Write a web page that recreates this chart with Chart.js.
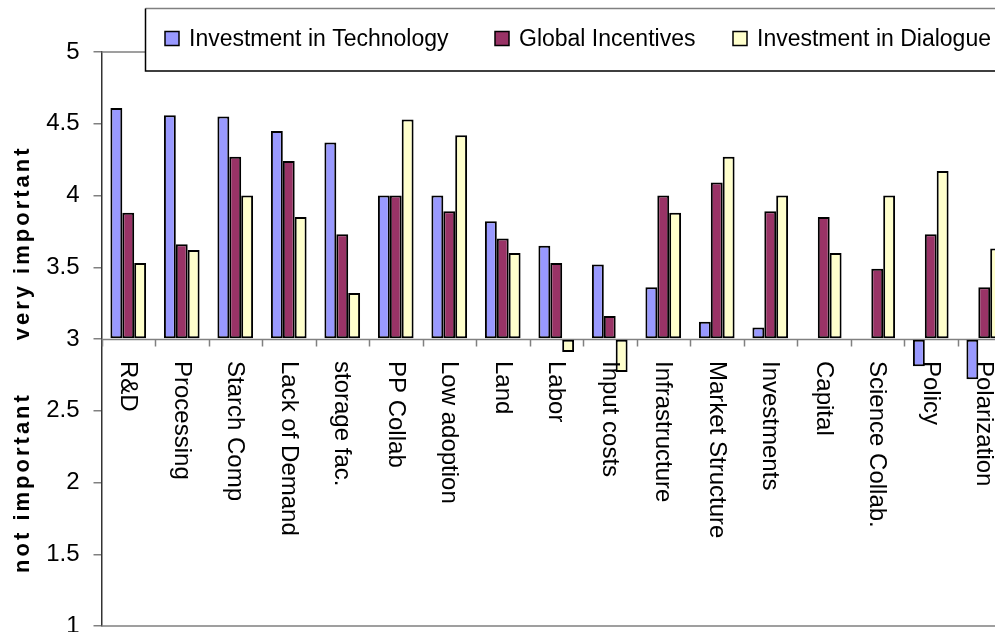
<!DOCTYPE html>
<html>
<head>
<meta charset="utf-8">
<script src="https://cdn.jsdelivr.net/npm/chart.js@4"></script>
<style>
  html, body { margin: 0; padding: 0; background: #fff; overflow: hidden; }
  #wrap { width: 995px; height: 632px; overflow: hidden; }
  canvas { display: block; }
</style>
</head>
<body>
<div id="wrap"><canvas id="chart" width="1020" height="632"></canvas></div>
<script>
// 카테고리 / 시리즈 값 (기준선 3에서 위·아래로 그림)
const CATEGORIES = ['R&D', 'Processing', 'Starch Comp', 'Lack of Demand', 'storage fac.', 'PP Collab',
  'Low adoption', 'Land', 'Labor', 'Input costs', 'Infrastructure', 'Market Structure',
  'Investments', 'Capital', 'Science Collab.', 'Policy', 'Polarization'];
const SERIES_NAMES = ['Investment in Technology', 'Global Incentives', 'Investment in Dialogue'];
const TECH       = [4.61, 4.56, 4.55, 4.45, 4.37, 4.00, 4.00, 3.82, 3.65, 3.52, 3.36, 3.12, 3.08, 3.00, 3.00, 2.81, 2.72];
const INCENTIVES = [3.88, 3.66, 4.27, 4.24, 3.73, 4.00, 3.89, 3.70, 3.53, 3.16, 4.00, 4.09, 3.89, 3.85, 3.49, 3.73, 3.36];
const DIALOGUE   = [3.53, 3.62, 4.00, 3.85, 3.32, 4.53, 4.42, 3.60, 2.91, 2.77, 3.88, 4.27, 4.00, 3.60, 4.00, 4.17, 3.63];
const Y_MIN = 1, Y_MAX = 5, Y_STEP = 0.5, BASE = 3;
// 축 제목과 그 중심이 놓일 y값
const AXIS_TITLES = ['very important', 'not important'];
const AXIS_TITLE_AT = [3.67, 2.0];

const FONT = '"Liberation Sans", Arial, sans-serif';
const COLORS = ['#9999FF', '#993366', '#FFFFCC'];

// 기준선(3)과 눈금, 축 제목, 회전된 카테고리 라벨, 플롯 테두리, 범례 박스
const decorations = {
  id: 'decorations',
  beforeDatasetsDraw(chart) {
    const { ctx, chartArea: a, scales: { y } } = chart;
    const y0 = Math.round(y.getPixelForValue(BASE)) + 0.5;
    ctx.save();
    ctx.strokeStyle = '#808080';
    ctx.lineWidth = 1.5;
    ctx.beginPath();
    ctx.moveTo(a.left, y0); ctx.lineTo(a.right, y0);
    // category boundary ticks below the base line
    for (let i = 0; i <= CATEGORIES.length; i++) {
      const bx = Math.round(a.left + (a.right - a.left) * i / CATEGORIES.length) + 0.5;
      ctx.moveTo(bx, y0); ctx.lineTo(bx, y0 + 7);
    }
    ctx.moveTo(a.left, a.top); ctx.lineTo(a.right, a.top);
    ctx.moveTo(a.left, a.bottom); ctx.lineTo(a.right, a.bottom);
    ctx.stroke();
    ctx.restore();
  },
  afterDatasetsDraw(chart) {
    const { ctx, scales: { x, y } } = chart;
    ctx.save();
    // category labels, read top to bottom
    const y0 = y.getPixelForValue(BASE);
    ctx.fillStyle = '#000';
    ctx.font = '24px ' + FONT;
    ctx.textAlign = 'left';
    ctx.textBaseline = 'alphabetic';
    CATEGORIES.forEach((c, i) => {
      const cx = x.getPixelForValue(i);
      ctx.save();
      ctx.translate(cx - 7, y0 + 22);
      ctx.rotate(Math.PI / 2);
      ctx.fillText(c, 0, 0);
      ctx.restore();
    });

    // left axis titles
    ctx.font = 'bold 22px ' + FONT;
    ctx.textAlign = 'center';
    if ('letterSpacing' in ctx) ctx.letterSpacing = '3px';
    AXIS_TITLES.forEach((t, i) => {
      ctx.save();
      ctx.translate(28.5, y.getPixelForValue(AXIS_TITLE_AT[i]));
      ctx.rotate(-Math.PI / 2);
      ctx.fillText(t, 0, 0);
      ctx.restore();
    });
    ctx.restore();
  },
  afterDraw(chart) {
    const { ctx } = chart;
    ctx.save();
    const bx = 145.5, by = 8.5, bw = 880, bh = 62.5;
    ctx.fillStyle = '#fff';
    ctx.fillRect(bx, by, bw, bh);
    ctx.lineWidth = 1.5;
    ctx.strokeStyle = '#808080';
    ctx.beginPath(); ctx.moveTo(bx, by); ctx.lineTo(bx + bw, by); ctx.stroke();
    ctx.strokeStyle = '#000';
    ctx.beginPath(); ctx.moveTo(bx, by); ctx.lineTo(bx, by + bh); ctx.lineTo(bx + bw, by + bh); ctx.stroke();

    ctx.font = '23px ' + FONT;
    ctx.textBaseline = 'middle';
    ctx.textAlign = 'left';
    const starts = [165, 495, 733];
    SERIES_NAMES.forEach((name, i) => {
      const sx = starts[i], sy = 31.5;
      ctx.fillStyle = COLORS[i];
      ctx.fillRect(sx, sy, 14, 14);
      ctx.strokeStyle = '#000';
      ctx.lineWidth = 1.5;
      ctx.strokeRect(sx, sy, 14, 14);
      ctx.fillStyle = '#000';
      ctx.fillText(name, sx + 24, sy + 8);
    });
    ctx.restore();
  },
};

const datasets = [TECH, INCENTIVES, DIALOGUE].map((vals, i) => ({
  label: SERIES_NAMES[i],
  data: vals,
  base: BASE,
  backgroundColor: COLORS[i],
  borderColor: '#000',
  borderWidth: 2,
  borderSkipped: false,
  categoryPercentage: 3 / 4.5,
  barPercentage: 1,
}));

new Chart(document.getElementById('chart'), {
  type: 'bar',
  data: { labels: CATEGORIES, datasets },
  options: {
    responsive: false,
    animation: false,
    events: [],
    // 캔버스는 창보다 넓고, 마지막 카테고리는 오른쪽 끝에서 잘려 보임
    layout: { autoPadding: false, padding: { top: 52, bottom: 6, left: 0, right: 9 } },
    plugins: { legend: { display: false }, tooltip: { enabled: false } },
    scales: {
      x: { display: false },
      y: {
        min: Y_MIN,
        max: Y_MAX,
        afterFit: (s) => {
          s.width = 101.5;
          // 눈금 라벨 때문에 생기는 위·아래 여백 제거
          s.paddingTop = 0;
          s.paddingBottom = 0;
        },
        ticks: {
          stepSize: Y_STEP, color: '#000', padding: 14,
          font: { family: FONT, size: 24 },
          callback: (v) => String(v),
        },
        grid: { display: true, drawOnChartArea: false, drawTicks: true, tickLength: 8, tickColor: '#808080', lineWidth: 1.5 },
        border: { display: true, color: '#333', width: 1.5 },
      },
    },
  },
  plugins: [decorations],
});
</script>
</body>
</html>
